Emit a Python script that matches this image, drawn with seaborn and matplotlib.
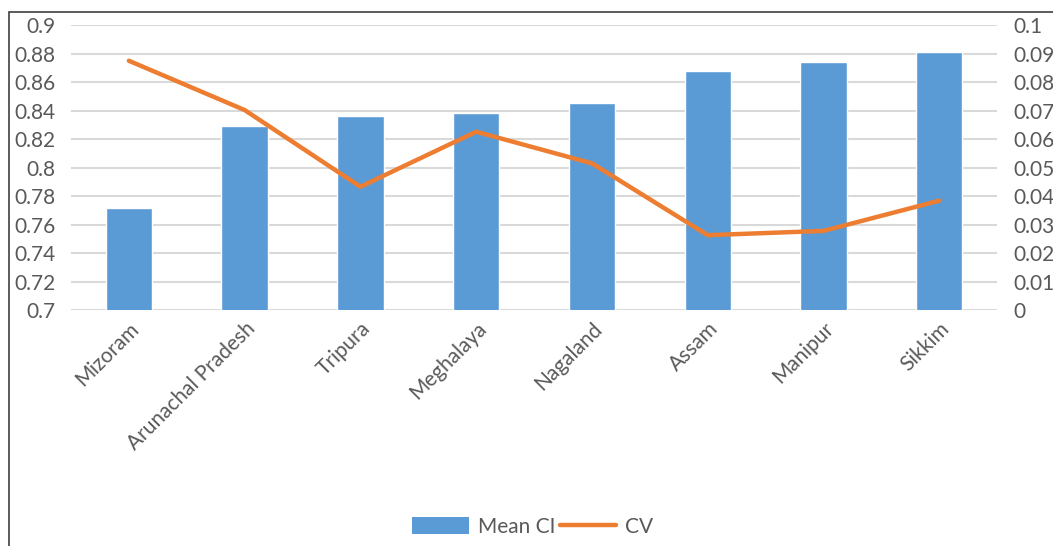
import numpy as np
import pandas as pd
import seaborn as sns
import matplotlib.pyplot as plt
from matplotlib.patches import Rectangle, Patch
from matplotlib.lines import Line2D

# dados
states = ["Mizoram", "Arunachal Pradesh", "Tripura", "Meghalaya",
          "Nagaland", "Assam", "Manipur", "Sikkim"]
mean_ci = [0.772, 0.829, 0.836, 0.838, 0.845, 0.868, 0.874, 0.881]
cv = [0.0875, 0.0702, 0.0433, 0.0626, 0.0515, 0.0263, 0.0278, 0.0384]

df = pd.DataFrame({"State": states, "Mean CI": mean_ci, "CV": cv})

sns.set_style("white")
plt.rcParams["font.family"] = ["Lato", "DejaVu Sans"]
gray_txt = "#595959"
fs = 15

fig = plt.figure(figsize=(10.53, 5.46), dpi=100)
ax = fig.add_axes([0.0674, 0.432, 0.8796, 0.522])

# barras da media
sns.barplot(data=df, x="State", y="Mean CI", color="#5b9bd5", width=0.4,
            saturation=1, ax=ax, zorder=3)
ax.set_ylim(0.7, 0.9)
ax.set_yticks(np.arange(0.7, 0.9001, 0.02))
ax.set_yticklabels(["0.7", "0.72", "0.74", "0.76", "0.78", "0.8",
                    "0.82", "0.84", "0.86", "0.88", "0.9"])
ax.grid(axis="y", color="#d9d9d9", linewidth=1.5, zorder=0)
ax.set_axisbelow(True)
ax.set_xlabel("")
ax.set_ylabel("")
ax.set_xlim(-0.5, 7.5)

# linha do CV no eixo da direita
ax2 = ax.twinx()
sns.lineplot(data=df, x="State", y="CV", color="#ed7d31", linewidth=3.2,
             sort=False, ax=ax2, zorder=4)
ax2.set_ylim(0, 0.1)
ax2.set_yticks(np.arange(0, 0.1001, 0.01))
ax2.set_yticklabels(["0", "0.01", "0.02", "0.03", "0.04", "0.05",
                     "0.06", "0.07", "0.08", "0.09", "0.1"])
ax2.set_ylabel("")
ax2.set_xlabel("")
ax2.set_xlim(-0.5, 7.5)

for a in (ax, ax2):
    for s in a.spines.values():
        s.set_visible(False)
    a.tick_params(length=0, labelsize=fs, colors=gray_txt)

ax.tick_params(axis="y", pad=11)
ax2.tick_params(axis="y", pad=12)
plt.setp(ax.get_xticklabels(), rotation=45, ha="right",
         rotation_mode="anchor", fontsize=fs, color=gray_txt)
ax.tick_params(axis="x", pad=6)

# legenda embaixo
handles = [Patch(facecolor="#5b9bd5", edgecolor="none"),
           Line2D([0], [0], color="#ed7d31", linewidth=3.2)]
fig.legend(handles, ["Mean CI", "CV"], loc="center", ncol=2,
           bbox_to_anchor=(0.506, 0.035), frameon=False, fontsize=fs,
           labelcolor=gray_txt, handlelength=2.7, handleheight=0.9,
           handletextpad=0.45, columnspacing=0.2)

# moldura do grafico
fig.patches.append(Rectangle((9 / 1053, -0.05), 1.2, 1 - 12 / 546 + 0.05,
                             transform=fig.transFigure, fill=False,
                             edgecolor="#404040", linewidth=1.2))

fig.savefig("out.png", dpi=100)
